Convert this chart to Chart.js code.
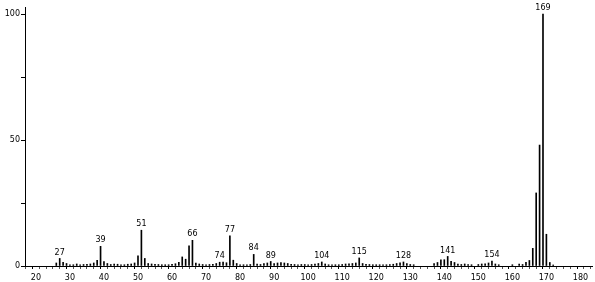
<!DOCTYPE html>
<html>
<head>
<meta charset="utf-8">
<script src="https://cdn.jsdelivr.net/npm/chart.js@4.4.1/dist/chart.umd.min.js"></script>
<style>
  body { margin: 0; background: #fff; }
  canvas { display: block; }
</style>
</head>
<body>
<canvas id="myChart" width="595" height="282"></canvas>
<script>
// m/z values and relative intensities
const masses = [26, 27, 28, 29, 30, 31, 32, 33, 34, 35, 36, 37, 38, 39, 40, 41, 42, 43, 44, 45,
	46, 47, 48, 49, 50, 51, 52, 53, 54, 55, 56, 57, 58, 59, 60, 61, 62, 63, 64, 65,
	66, 67, 68, 69, 70, 71, 72, 73, 74, 75, 76, 77, 78, 79, 80, 81, 82, 83, 84, 85,
	86, 87, 88, 89, 90, 91, 92, 93, 94, 95, 96, 97, 98, 99, 100, 101, 102, 103, 104, 105,
	106, 107, 108, 109, 110, 111, 112, 113, 114, 115, 116, 117, 118, 119, 120, 121, 122, 123, 124, 125,
	126, 127, 128, 129, 130, 131, 137, 138, 139, 140, 141, 142, 143, 144, 145, 146, 147, 148, 150, 151,
	152, 153, 154, 155, 156, 160, 162, 163, 164, 165, 166, 167, 168, 169, 170, 171, 172];
const intensities = [1.2, 3, 1.5, 1, 0.5, 0.5, 0.8, 0.5, 0.6, 0.7, 0.8, 1.2, 2.3, 7.8, 1.8, 1, 0.6, 0.8, 0.7, 0.5,
	0.5, 0.7, 0.8, 1.2, 4, 14.2, 3, 1, 0.8, 0.7, 0.6, 0.5, 0.5, 0.5, 0.7, 0.9, 1.5, 3.6, 2.7, 8,
	10.2, 1.2, 0.8, 0.6, 0.5, 0.6, 0.7, 1, 1.5, 1.6, 1.3, 12, 2.3, 1, 0.5, 0.5, 0.5, 0.6, 4.6, 0.8,
	0.6, 1, 1.2, 1.8, 1, 1.2, 1.4, 1.2, 1, 0.7, 0.6, 0.5, 0.6, 0.6, 0.5, 0.6, 0.8, 1, 1.6, 0.8,
	0.5, 0.5, 0.5, 0.5, 0.6, 0.8, 0.9, 1, 1.2, 3.2, 1, 0.7, 0.6, 0.5, 0.5, 0.5, 0.5, 0.5, 0.6, 0.7,
	1, 1.3, 1.6, 1, 0.6, 0.5, 1, 1.4, 2.4, 2.5, 3.8, 1.9, 1.4, 0.8, 0.6, 0.8, 0.6, 0.5, 0.6, 0.8,
	0.9, 1.2, 2, 0.8, 0.5, 0.5, 0.8, 0.6, 1.5, 2.2, 7, 29, 48, 100, 12.6, 1.4, 0.4];

// peaks that carry a mass label
const labelled = [27, 39, 51, 66, 74, 77, 84, 89, 104, 115, 128, 141, 154, 169];

const xTicks = [];
for (let v = 18; v <= 182; v += 2) xTicks.push(v);
const yTicks = [0, 25, 50, 75, 100];

const fontFamily = "'DejaVu Sans', sans-serif";

const peakLabels = {
	id: "peakLabels",
	afterDatasetsDraw(chart) {
		const ctx = chart.ctx;
		const xs = chart.scales.x;
		const ys = chart.scales.y;
		ctx.save();
		ctx.fillStyle = "#000";
		ctx.font = "8px " + fontFamily;
		ctx.textAlign = "center";
		ctx.textBaseline = "bottom";
		labelled.forEach(m => {
			const i = masses.indexOf(m);
			ctx.fillText(String(m), xs.getPixelForValue(m), ys.getPixelForValue(intensities[i]) - 2);
		});
		ctx.restore();
	},
};

const data = {
	datasets: [
		{
			data: masses.map((m, i) => ({ x: m, y: intensities[i] })),
			backgroundColor: "#000",
			barThickness: 1,
			borderWidth: 0,
		},
	],
};

const config = {
	type: "bar",
	data,
	options: {
		responsive: false,
		devicePixelRatio: 1,
		animation: false,
		layout: { padding: { top: 7, right: 3, left: 0, bottom: 0 } },
		plugins: { legend: { display: false }, tooltip: { enabled: false } },
		scales: {
			x: {
				type: "linear",
				min: 16.8,
				max: 183.4,
				offset: false,
				afterBuildTicks: s => { s.ticks = xTicks.map(v => ({ value: v })); },
				afterFit: s => { s.height = 16; },
				border: { display: true, color: "#000", width: 1 },
				grid: {
					drawOnChartArea: false,
					drawTicks: true,
					tickLength: 3,
					tickColor: c => (c.tick && c.tick.value % 10 === 0 ? "#000" : "#555"),
				},
				ticks: {
					autoSkip: false,
					maxRotation: 0,
					padding: 4,
					color: "#000",
					font: { family: fontFamily, size: 8 },
					callback: v => (v % 10 === 0 ? String(v) : ""),
				},
			},
			y: {
				min: 0,
				max: 102.8,
				afterBuildTicks: s => { s.ticks = yTicks.map(v => ({ value: v })); },
				afterFit: s => { s.width = 25; },
				border: { display: true, color: "#000", width: 1 },
				grid: { drawOnChartArea: false, drawTicks: true, tickLength: 4, tickColor: "#000" },
				ticks: {
					padding: 1,
					color: "#000",
					font: { family: fontFamily, size: 8 },
					callback: v => (v % 50 === 0 ? String(v) : ""),
				},
			},
		},
	},
	plugins: [peakLabels],
};

new Chart(document.getElementById("myChart"), config);
</script>
</body>
</html>
